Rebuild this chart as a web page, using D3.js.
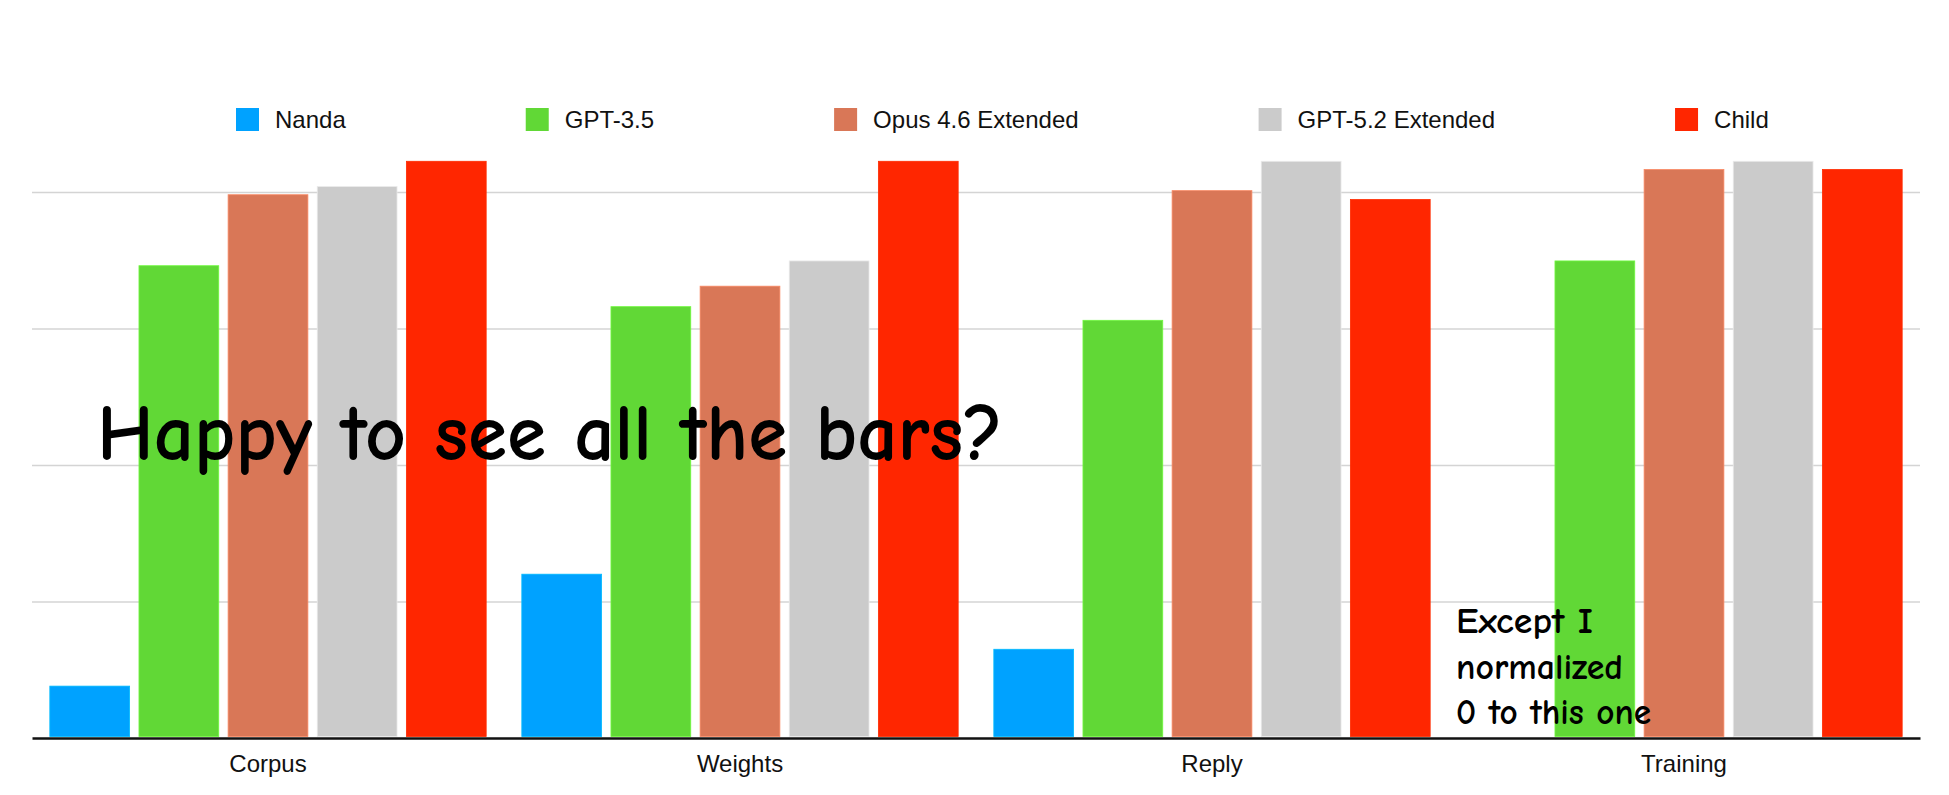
<!DOCTYPE html>
<html>
<head>
<meta charset="utf-8">
<script src="https://cdn.jsdelivr.net/npm/d3@7"></script>
<style>
  html, body { margin: 0; padding: 0; background: #fff; }
  svg { display: block; }
</style>
</head>
<body>
<div id="container"></div>
<script>
// categories along the x axis
var categories = ["Corpus", "Weights", "Reply", "Training"];
// one entry per legend item / bar within a group
var seriesNames = ["Nanda", "GPT-3.5", "Opus 4.6 Extended", "GPT-5.2 Extended", "Child"];
var seriesColors = ["#00A2FF", "#61D836", "#D97757", "#CBCBCB", "#FF2600"];
// values per series, in category order
var nanda   = [7.6, 24.0, 13.0, 0];
var gpt35   = [69.2, 63.2, 61.2, 69.9];
var opus46  = [79.6, 66.2, 80.2, 83.3];
var gpt52   = [80.8, 69.9, 84.5, 84.5];
var child   = [84.5, 84.5, 78.9, 83.3];
var seriesValues = [nanda, gpt35, opus46, gpt52, child];
// gridline values
var gridTicks = [20, 40, 60, 80];

var W = 1949, H = 795;
var left = 32, right = 1920, baseline = 738, top80 = 192;

var svg = d3.select("#container").append("svg")
    .attr("width", W)
    .attr("height", H);

svg.append("rect").attr("width", W).attr("height", H).attr("fill", "#fff");

var x0 = d3.scaleBand()
    .domain(categories)
    .range([left, right])
    .paddingInner(0)
    .paddingOuter(0);

var x1 = d3.scaleBand()
    .domain(seriesNames)
    .range([0, x0.bandwidth()])
    .paddingInner(0.105)
    .paddingOuter(0.2);

var y = d3.scaleLinear()
    .domain([0, 80])
    .range([baseline, top80]);

// gridlines
var grid = svg.append("g")
    .attr("class", "grid")
    .attr("transform", "translate(" + left + ",0)")
    .call(d3.axisLeft(y).tickValues(gridTicks).tickSize(-(right - left)).tickFormat(""));
grid.select(".domain").remove();
grid.selectAll("line").attr("stroke", "#D4D4D4").attr("stroke-width", 1.5);

// bars
var rows = [];
categories.forEach(function (c, ci) {
    seriesNames.forEach(function (s, si) {
        rows.push({ cat: c, name: s, color: seriesColors[si], value: seriesValues[si][ci] });
    });
});

svg.append("g").attr("class", "bars")
  .selectAll("rect")
  .data(rows.filter(function (d) { return d.value > 0; }))
  .join("rect")
    .attr("x", function (d) { return x0(d.cat) + x1(d.name); })
    .attr("y", function (d) { return y(d.value); })
    .attr("width", x1.bandwidth())
    .attr("height", function (d) { return baseline - 1.5 - y(d.value); })
    .attr("fill", function (d) { return d.color; })
    .attr("stroke", function (d) { return d3.color(d.color).brighter(0.4); })
    .attr("stroke-width", 0.8);

// x axis
var xAxis = svg.append("g")
    .attr("class", "x-axis")
    .attr("transform", "translate(0," + baseline + ")")
    .call(d3.axisBottom(x0).tickSize(0).tickSizeOuter(0));
xAxis.select(".domain").attr("stroke", "#111").attr("stroke-width", 2.5);
xAxis.selectAll("text")
    .attr("y", 34)
    .attr("dy", 0)
    .attr("fill", "#111")
    .style("font-family", "'Liberation Sans', Arial, Helvetica, sans-serif")
    .style("font-size", "24px");

// legend
var legend = svg.append("g").attr("class", "legend");
var lx = 236;
seriesNames.forEach(function (name, i) {
    var item = legend.append("g").attr("transform", "translate(" + lx + ",0)");
    item.append("rect")
        .attr("x", 0).attr("y", 108)
        .attr("width", 23).attr("height", 23)
        .attr("fill", seriesColors[i]);
    var t = item.append("text")
        .attr("x", 39).attr("y", 128)
        .attr("fill", "#111")
        .style("font-family", "'Liberation Sans', Arial, Helvetica, sans-serif")
        .style("font-size", "24px")
        .text(name);
    lx += 39 + t.node().getComputedTextLength() + 180;
});

// hand-written notes on top of the chart
var noteFont = "'Comic Sans MS', 'Comic Neue', 'Open Sans', sans-serif";
svg.append("text")
    .attr("x", 97).attr("y", 460)
    .attr("textLength", 906)
    .attr("lengthAdjust", "spacingAndGlyphs")
    .attr("fill", "#000")
    .style("font-family", noteFont)
    .style("font-weight", "bold")
    .style("font-size", "80px")
    .text("Happy to see all the bars?");

var noteLines = ["Except I", "normalized", "0 to this one"];
var noteWidths = [137, 167, 195];
svg.append("g").selectAll("text")
  .data(noteLines)
  .join("text")
    .attr("x", 1456)
    .attr("y", function (d, i) { return 633 + i * 45.5; })
    .attr("textLength", function (d, i) { return noteWidths[i]; })
    .attr("lengthAdjust", "spacingAndGlyphs")
    .attr("fill", "#000")
    .style("font-family", noteFont)
    .style("font-weight", "bold")
    .style("font-size", "36px")
    .text(function (d) { return d; });
</script>
</body>
</html>
